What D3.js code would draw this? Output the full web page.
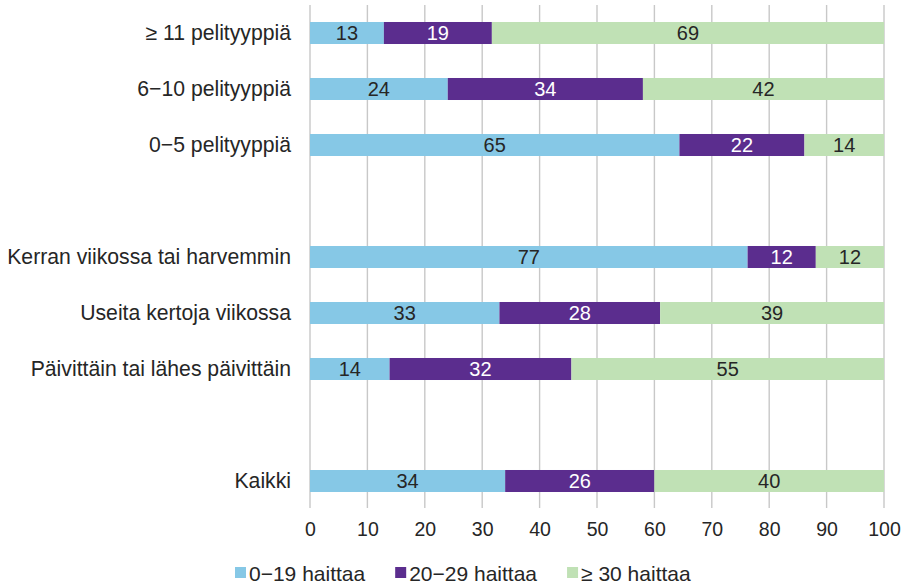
<!DOCTYPE html>
<html>
<head>
<meta charset="utf-8">
<script src="https://cdn.jsdelivr.net/npm/d3@7"></script>
<style>
  html, body { margin: 0; padding: 0; background: #fff; }
  svg { display: block; font-family: "Liberation Sans", Arial, sans-serif; }
</style>
</head>
<body>
<svg id="chart" width="905" height="586"></svg>
<script>
// Rows top to bottom; empty strings are spacer rows between groups
const categories = [
  "≥ 11 pelityyppiä",
  "6−10 pelityyppiä",
  "0−5 pelityyppiä",
  "",
  "Kerran viikossa tai harvemmin",
  "Useita kertoja viikossa",
  "Päivittäin tai lähes päivittäin",
  " ",
  "Kaikki"
];
const rowsWithData = [
  "≥ 11 pelityyppiä",
  "6−10 pelityyppiä",
  "0−5 pelityyppiä",
  "Kerran viikossa tai harvemmin",
  "Useita kertoja viikossa",
  "Päivittäin tai lähes päivittäin",
  "Kaikki"
];
const seriesNames = ["0−19 haittaa", "20−29 haittaa", "≥ 30 haittaa"];
const low = [13, 24, 65, 77, 33, 14, 34];
const mid = [19, 34, 22, 12, 28, 32, 26];
const high = [69, 42, 14, 12, 39, 55, 40];
const xTicks = [0, 10, 20, 30, 40, 50, 60, 70, 80, 90, 100];

const colors = ["#86c8e6", "#5b2d8e", "#c0e1b5"];
const labelColors = ["#262626", "#ffffff", "#262626"];

const rows = rowsWithData.map((name, i) => ({
  name,
  [seriesNames[0]]: low[i],
  [seriesNames[1]]: mid[i],
  [seriesNames[2]]: high[i]
}));

const svg = d3.select("#chart");

const x = d3.scaleLinear().domain([0, 100]).range([310, 884]);
const y = d3.scaleBand()
  .domain(categories)
  .range([5, 509])
  .paddingInner(0.607)
  .paddingOuter(0.3035);

// Shares of each row, expanded to 100 %
const stack = d3.stack().keys(seriesNames).offset(d3.stackOffsetExpand);
const layers = stack(rows);

// Vertical gridlines
svg.append("g")
  .selectAll("line")
  .data(xTicks)
  .join("line")
  .attr("x1", d => x(d)).attr("x2", d => x(d))
  .attr("y1", 5).attr("y2", 508)
  .attr("stroke", "#c8c8c8")
  .attr("stroke-width", 1.4);

// Bars
const layerG = svg.append("g")
  .selectAll("g")
  .data(layers)
  .join("g")
  .attr("fill", (d, i) => colors[i]);

layerG.selectAll("rect")
  .data(d => d)
  .join("rect")
  .attr("x", d => x(d[0] * 100))
  .attr("width", d => x(d[1] * 100) - x(d[0] * 100))
  .attr("y", d => y(d.data.name))
  .attr("height", y.bandwidth());

// Value labels
layers.forEach((layer, li) => {
  svg.append("g")
    .selectAll("text")
    .data(layer)
    .join("text")
    .attr("x", d => (x(d[0] * 100) + x(d[1] * 100)) / 2)
    .attr("y", d => y(d.data.name) + y.bandwidth() / 2)
    .attr("dy", "0.36em")
    .attr("text-anchor", "middle")
    .attr("font-size", 20)
    .attr("fill", labelColors[li])
    .text(d => d.data[layer.key]);
});

// Category axis
const yAxis = svg.append("g")
  .attr("transform", "translate(291,0)")
  .call(d3.axisLeft(y).tickSize(0).tickPadding(0));
yAxis.select(".domain").remove();
yAxis.selectAll("text")
  .attr("font-size", 21.2)
  .attr("fill", "#262626")
  .attr("font-family", "Liberation Sans, Arial, sans-serif");

// Value axis
const xAxis = svg.append("g")
  .attr("transform", "translate(0,508)")
  .call(d3.axisBottom(x).tickValues(xTicks).tickSize(0).tickPadding(14));
xAxis.select(".domain").remove();
xAxis.selectAll("text")
  .attr("font-size", 19.5)
  .attr("fill", "#262626")
  .attr("font-family", "Liberation Sans, Arial, sans-serif");

// Legend
const legend = svg.append("g");
let lx = 235;
seriesNames.forEach((name, i) => {
  legend.append("rect")
    .attr("x", lx).attr("y", 567)
    .attr("width", 11).attr("height", 11)
    .attr("fill", colors[i]);
  const t = legend.append("text")
    .attr("x", lx + 14).attr("y", 580.5)
    .attr("font-size", 21)
    .attr("fill", "#262626")
    .text(name);
  lx += 14 + t.node().getComputedTextLength() + 30;
});
</script>
</body>
</html>
